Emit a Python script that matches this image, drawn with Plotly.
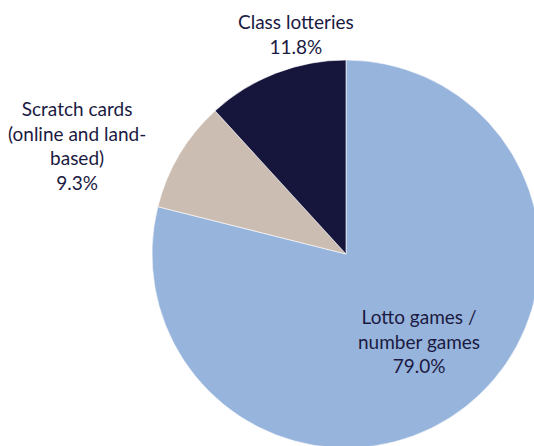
import plotly.graph_objects as go

# Lottery market shares
categories = ["Lotto games /<br>number games", "Scratch cards<br>(online and land-<br>based)", "Class lotteries"]
shares = [79.0, 9.3, 11.8]
colors = ["#97b4dc", "#cbbdb1", "#16153c"]

TEXT_COLOR = "#1b1a42"
FONT = "Lato"

# Canvas is slightly larger than the view so the pie can run past the edges
W, H = 550, 460
cx, cy, r = 346, 254, 194

fig = go.Figure(
    go.Pie(
        labels=categories,
        values=shares,
        marker=dict(colors=colors, line=dict(color="white", width=0.6)),
        sort=False,
        direction="clockwise",
        rotation=0,
        textinfo="none",
        hoverinfo="label+percent",
        showlegend=False,
        domain=dict(x=[(cx - r) / W, (cx + r) / W], y=[(H - cy - r) / H, (H - cy + r) / H]),
    )
)

# Label anchor points (pixel positions on the canvas)
label_pos = [(419, 341), (77, 145), (296, 34)]
for name, val, (px, py) in zip(categories, shares, label_pos):
    fig.add_annotation(
        x=px / W,
        y=1 - py / H,
        xref="paper",
        yref="paper",
        text=f"{name}<br>{val:.1f}%",
        showarrow=False,
        xanchor="center",
        yanchor="middle",
        align="center",
        font=dict(family=FONT, size=19, color=TEXT_COLOR),
    )

fig.update_layout(
    width=W,
    height=H,
    margin=dict(l=0, r=0, t=0, b=0),
    paper_bgcolor="white",
    plot_bgcolor="white",
)

fig.write_html("out.html", post_script="document.body.style.overflow='hidden';document.body.style.margin='0';")
